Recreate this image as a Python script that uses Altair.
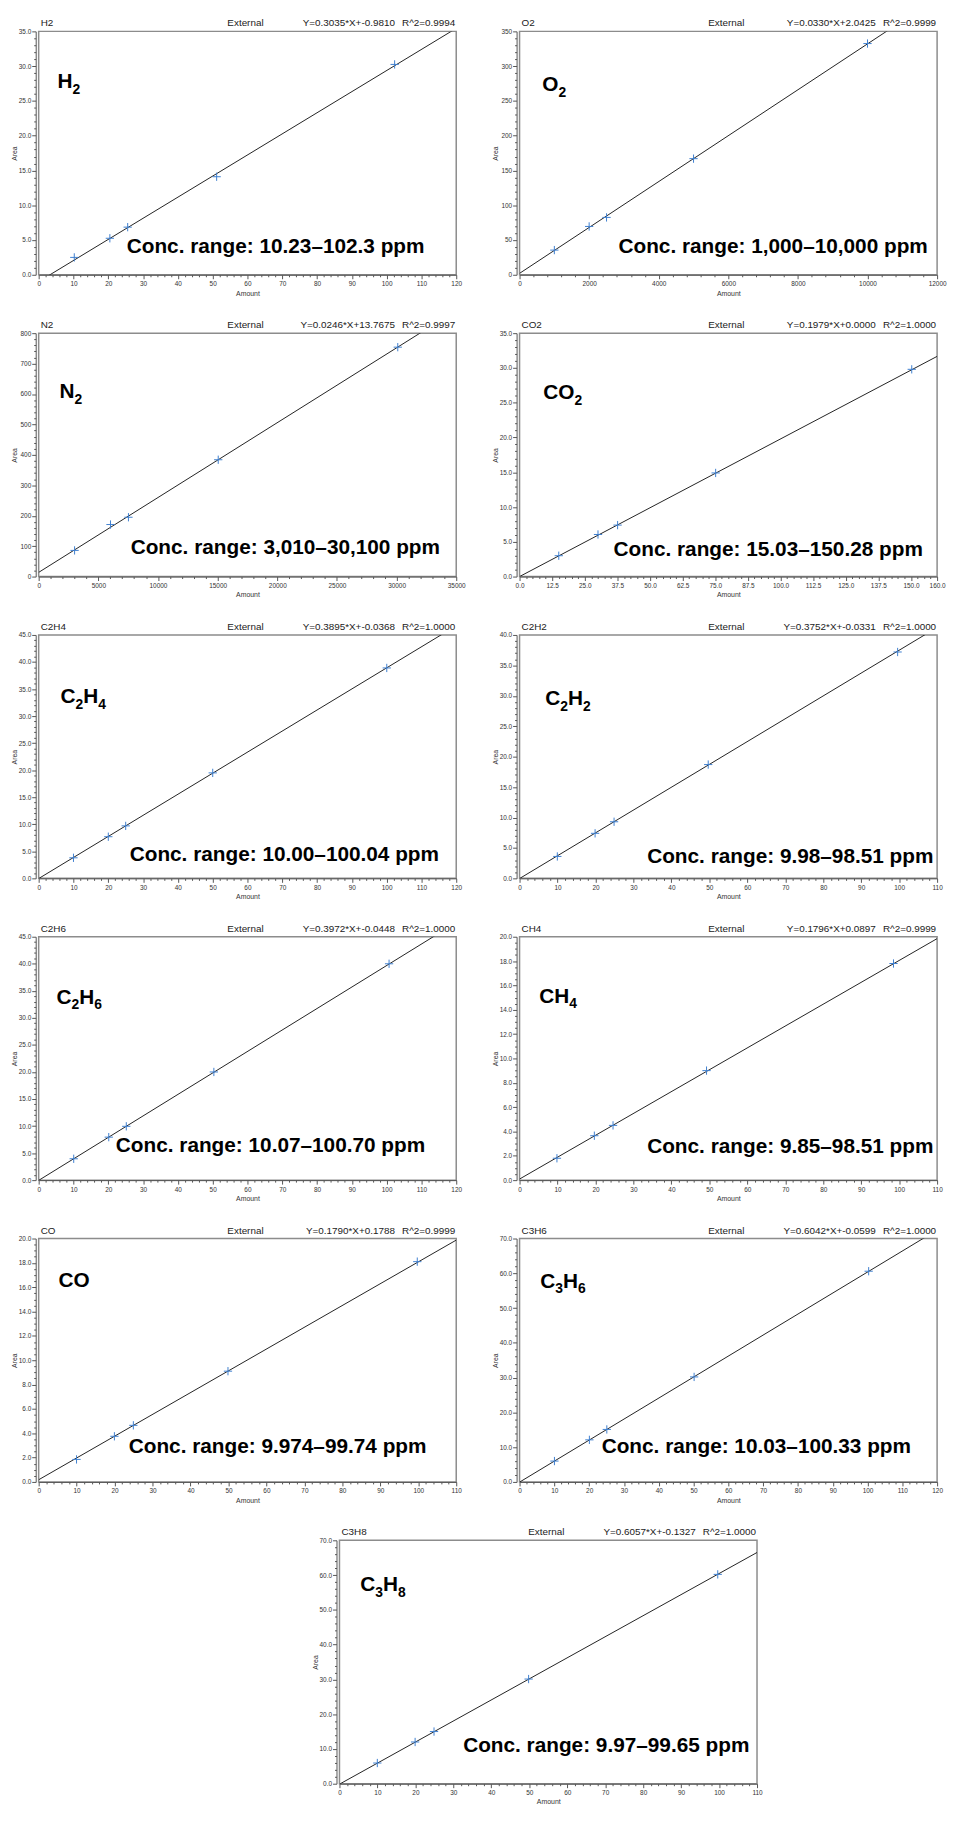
import altair as alt
import pandas as pd
import numpy as np

# ---------------- data ----------------
gases = ["H2", "O2", "N2", "CO2", "C2H4", "C2H2", "C2H6", "CH4", "CO", "C3H6", "C3H8"]

amounts = {
    "H2": [10.23, 20.46, 25.58, 51.15, 102.3],
    "O2": [1000, 2000, 2500, 5000, 10000],
    "N2": [3010, 6020, 7525, 15050, 30100],
    "CO2": [15.03, 30.06, 37.57, 75.14, 150.28],
    "C2H4": [10.00, 20.01, 25.01, 50.02, 100.04],
    "C2H2": [9.95, 19.90, 24.90, 49.70, 99.60],
    "C2H6": [10.07, 20.14, 25.18, 50.35, 100.70],
    "CH4": [9.85, 19.70, 24.63, 49.26, 98.51],
    "CO": [9.974, 19.95, 24.94, 49.87, 99.74],
    "C3H6": [10.03, 20.07, 25.08, 50.17, 100.33],
    "C3H8": [9.97, 19.93, 24.91, 49.83, 99.65],
}
areas = {
    "H2": [2.5, 5.25, 6.85, 14.1, 30.25],
    "O2": [35.5, 69.5, 82.5, 167.0, 332.5],
    "N2": [86, 171, 195, 384, 754],
    "CO2": [3.0, 6.05, 7.4, 14.9, 29.8],
    "C2H4": [3.8, 7.7, 9.7, 19.5, 38.9],
    "C2H2": [3.6, 7.4, 9.3, 18.7, 37.2],
    "C2H6": [3.95, 7.95, 9.95, 20.0, 40.0],
    "CH4": [1.8, 3.65, 4.5, 9.0, 17.8],
    "CO": [1.85, 3.75, 4.65, 9.1, 18.1],
    "C3H6": [6.0, 12.1, 15.1, 30.2, 60.6],
    "C3H8": [5.95, 12.0, 15.0, 30.1, 60.2],
}
slopes = {"H2": 0.3035, "O2": 0.0330, "N2": 0.0246, "CO2": 0.1979, "C2H4": 0.3895,
          "C2H2": 0.3752, "C2H6": 0.3972, "CH4": 0.1796, "CO": 0.1790, "C3H6": 0.6042,
          "C3H8": 0.6057}
intercepts = {"H2": -0.9810, "O2": 2.0425, "N2": 13.7675, "CO2": 0.0000, "C2H4": -0.0368,
              "C2H2": -0.0331, "C2H6": -0.0448, "CH4": 0.0897, "CO": 0.1788, "C3H6": -0.0599,
              "C3H8": -0.1327}
r2 = {"H2": "0.9994", "O2": "0.9999", "N2": "0.9997", "CO2": "1.0000", "C2H4": "1.0000",
      "C2H2": "1.0000", "C2H6": "1.0000", "CH4": "0.9999", "CO": "0.9999", "C3H6": "1.0000",
      "C3H8": "1.0000"}
conc_text = {
    "H2": "Conc. range: 10.23–102.3 ppm",
    "O2": "Conc. range: 1,000–10,000 ppm",
    "N2": "Conc. range: 3,010–30,100 ppm",
    "CO2": "Conc. range: 15.03–150.28 ppm",
    "C2H4": "Conc. range: 10.00–100.04 ppm",
    "C2H2": "Conc. range: 9.98–98.51 ppm",
    "C2H6": "Conc. range: 10.07–100.70 ppm",
    "CH4": "Conc. range: 9.85–98.51 ppm",
    "CO": "Conc. range: 9.974–99.74 ppm",
    "C3H6": "Conc. range: 10.03–100.33 ppm",
    "C3H8": "Conc. range: 9.97–99.65 ppm",
}
# chemical formula as (text, is_subscript) pieces
formula = {
    "H2": [("H", 0), ("2", 1)],
    "O2": [("O", 0), ("2", 1)],
    "N2": [("N", 0), ("2", 1)],
    "CO2": [("CO", 0), ("2", 1)],
    "C2H4": [("C", 0), ("2", 1), ("H", 0), ("4", 1)],
    "C2H2": [("C", 0), ("2", 1), ("H", 0), ("2", 1)],
    "C2H6": [("C", 0), ("2", 1), ("H", 0), ("6", 1)],
    "CH4": [("CH", 0), ("4", 1)],
    "CO": [("CO", 0)],
    "C3H6": [("C", 0), ("3", 1), ("H", 0), ("6", 1)],
    "C3H8": [("C", 0), ("3", 1), ("H", 0), ("8", 1)],
}
# axis ranges / tick steps
x_max = {"H2": 120, "O2": 12000, "N2": 35000, "CO2": 160, "C2H4": 120, "C2H2": 110,
         "C2H6": 120, "CH4": 110, "CO": 110, "C3H6": 120, "C3H8": 110}
x_major = {"H2": 10, "O2": 2000, "N2": 5000, "CO2": 12.5, "C2H4": 10, "C2H2": 10,
           "C2H6": 10, "CH4": 10, "CO": 10, "C3H6": 10, "C3H8": 10}
x_minor = {"H2": 2, "O2": 400, "N2": 1000, "CO2": 2.5, "C2H4": 2, "C2H2": 2,
           "C2H6": 2, "CH4": 2, "CO": 2, "C3H6": 2, "C3H8": 2}
x_fmt = {"CO2": ".1f"}
y_max = {"H2": 35, "O2": 350, "N2": 800, "CO2": 35, "C2H4": 45, "C2H2": 40,
         "C2H6": 45, "CH4": 20, "CO": 20, "C3H6": 70, "C3H8": 70}
y_major = {"H2": 5, "O2": 50, "N2": 100, "CO2": 5, "C2H4": 5, "C2H2": 5,
           "C2H6": 5, "CH4": 2, "CO": 2, "C3H6": 10, "C3H8": 10}
y_minor = {"H2": 1, "O2": 10, "N2": 20, "CO2": 1, "C2H4": 1, "C2H2": 1,
           "C2H6": 1, "CH4": 0.5, "CO": 0.5, "C3H6": 2, "C3H8": 2}
y_fmt = {"O2": "d", "N2": "d"}

# ---------------- layout / style ----------------
W, H = 422, 246
SANS = "Liberation Sans, Arial, Helvetica, sans-serif"
# formula label: (left offset, centre offset from top)
formula_pos = {"H2": (19, 50), "O2": (23, 53), "N2": (21, 58), "CO2": (24, 59),
               "C2H4": (22, 61), "C2H2": (26, 63), "C2H6": (18, 60), "CH4": (20, 59),
               "CO": (20, 41), "C3H6": (21, 42), "C3H8": (21, 44)}
# concentration text: (left offset, centre offset from bottom)
conc_pos = {"H2": (89, 28), "O2": (100, 28), "N2": (93, 29), "CO2": (95, 27),
            "C2H4": (92, 24), "C2H2": (129, 22), "C2H6": (78, 34), "CH4": (129, 33),
            "CO": (91, 35), "C3H6": (83, 35), "C3H8": (125, 38)}
GLYPH_W = {"C": 0.722, "H": 0.722, "O": 0.778, "N": 0.722}
MAIN_FS, SUB_FS, SUB_DROP = 21, 14, 6
CROSS = "M-1,0L1,0M0,-1L0,1"

one = pd.DataFrame({"k": [0]})


def ticks(mx, step):
    return [float(v) for v in np.round(np.arange(0, mx + step * 0.001, step), 6)]


def major_vals(mx, step):
    v = ticks(mx, step)
    if abs(v[-1] - mx) > 1e-9:
        v.append(float(mx))
    return v


def make_axis(title, mx, major, minor, fmt, extra):
    maj = major_vals(mx, major)
    vals = sorted(set(ticks(mx, minor)) | set(maj))
    arr = "[" + ",".join(repr(v) for v in maj) + "]"
    test = f"indexof({arr}, datum.value) >= 0"
    return alt.Axis(
        title=title, values=vals,
        labelExpr=f"{test} ? format(datum.value, '{fmt}') : ''",
        tickSize={"condition": {"test": test, "value": 4}, "value": 2},
        labelOverlap=False, labelFlush=False, grid=False, **extra)


def text_layer(txt, x, y, align="left", baseline="middle", font=SANS, size=10,
               weight="normal", color="#222"):
    return alt.Chart(one).mark_text(
        align=align, baseline=baseline, font=font, fontSize=size,
        fontWeight=weight, color=color).encode(
        x=alt.value(x), y=alt.value(y), text=alt.value(txt))


def panel(g):
    pts = pd.DataFrame({"Amount": amounts[g], "Area": areas[g]})
    xm = x_max[g]
    line_df = pd.DataFrame({"Amount": [0.0, float(xm)],
                            "Area": [intercepts[g], slopes[g] * xm + intercepts[g]]})
    xscale = alt.Scale(domain=[0, xm], nice=False, zero=True)
    yscale = alt.Scale(domain=[0, y_max[g]], nice=False, zero=True)
    xaxis = make_axis("Amount", xm, x_major[g], x_minor[g], x_fmt.get(g, "d"),
                      dict(labelPadding=2, titlePadding=2))
    yaxis = make_axis("Area", y_max[g], y_major[g], y_minor[g], y_fmt.get(g, ".1f"),
                      dict(labelPadding=1, titlePadding=2, offset=3,
                           minExtent=16, maxExtent=16))
    enc = dict(x=alt.X("Amount:Q", scale=xscale, axis=xaxis),
               y=alt.Y("Area:Q", scale=yscale, axis=yaxis))
    line = alt.Chart(line_df).mark_line(clip=True, color="#222", strokeWidth=1).encode(**enc)
    points = alt.Chart(pts).mark_point(
        shape=CROSS, filled=False, size=70, color="#3f7fcf", strokeWidth=1,
        opacity=1).encode(**enc)

    eq = f"Y={slopes[g]:.4f}*X+{intercepts[g]:.4f}"
    layers = [line, points,
              text_layer(g, 2, -8),
              text_layer("External", W / 2 - 2, -8, align="center"),
              text_layer(eq, W - 62, -8, align="right"),
              text_layer(f"R^2={r2[g]}", W - 1, -8, align="right")]

    cl, cb = conc_pos[g]
    layers.append(text_layer(conc_text[g], cl, H - cb, size=21,
                             weight="bold", color="#000"))

    fx, fy = formula_pos[g]
    base = fy + 7.5
    cur = fx
    for seg, sub in formula[g]:
        fs = SUB_FS if sub else MAIN_FS
        layers.append(text_layer(seg, cur, base + (SUB_DROP if sub else 0),
                                 baseline="alphabetic", size=fs,
                                 weight="bold", color="#000"))
        cur += sum(0.556 * fs if ch.isdigit() else GLYPH_W[ch] * fs for ch in seg)
    return alt.layer(*layers).properties(width=W, height=H)


panels = [panel(g) for g in gases]

grid = alt.concat(*panels[:10], columns=2, spacing={"row": 22, "column": 25})
spacer = alt.Chart(one).mark_point(opacity=0).encode(
    x=alt.value(0), y=alt.value(0)).properties(
    width=255, height=10, view=alt.ViewBackground(strokeOpacity=0))
last_row = alt.hconcat(spacer, panels[10], spacing=20)

chart = alt.vconcat(grid, last_row, spacing=22).properties(
    padding={"left": 2, "top": 0, "right": 0, "bottom": 0},
    background="white",
).configure_view(
    stroke="#8c8c8c", strokeWidth=1.5
).configure_axis(
    domainColor="#555", domainWidth=1, tickColor="#555", tickWidth=1,
    labelFont=SANS, labelFontSize=6.5, labelColor="#333",
    titleFont=SANS, titleFontSize=7, titleFontWeight="normal", titleColor="#333",
)

chart.save("out.html", embed_options={"renderer": "svg", "actions": False})
